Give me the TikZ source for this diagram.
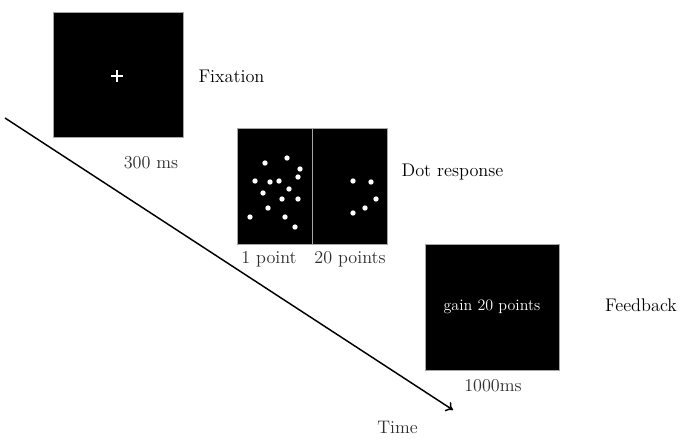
\documentclass[tikz,border=0pt]{standalone}
\usetikzlibrary{positioning,arrows.meta}
\tikzset{
  screen/.style={draw=gray!70,fill=black,thin,inner sep=0pt},
  lbl/.style={font=\fontsize{13.7}{16}\selectfont},
  sublbl/.style={font=\fontsize{13.6}{16}\selectfont,text=black!82},
  dot/.style={fill=white,draw=none}
}
\begin{document}
\begin{tikzpicture}[x=0.75pt,y=-0.75pt]
\useasboundingbox[fill=white] (0,0) rectangle (685,443);
% screens
\node[screen,minimum width=97.5pt,minimum height=93.75pt] (fix) at (118,74.5) {};
\node[screen,minimum width=56.25pt,minimum height=87pt] (dotL) at (274.5,186) {};
\node[screen,minimum width=56.25pt,minimum height=87pt] (dotR) at (349.5,186) {};
\draw[gray!70,thin] (dotL.north east) -- (dotL.south east); % divider
\node[screen,minimum width=100.5pt,minimum height=94.5pt,text=white,
      font=\fontsize{12}{14}\selectfont] (fb) at (492,307) {gain 20 points};
% fixation cross
\draw[white,line width=1.5pt] (111,76) -- (123,76);
\draw[white,line width=1.5pt] (117,70) -- (117,82);
% dots
\foreach \x/\y in {265/163,287/158,300/169,255/181,270/182,279/181,298/177,
  289/189,263/193,282/199,298/199,268/208,250/217,285/217,295/227}
  \fill[dot] (\x,\y) circle (2pt);
\foreach \x/\y in {353/181,371/182,376/199,365/208,353/213}
  \fill[dot] (\x,\y) circle (2pt);
% labels
\node[lbl] (fixlbl) at (231.5,76) {Fixation};
\node[lbl] (dotlbl) at (452.5,172) {Dot response};
\node[lbl] (fblbl) at (641,305) {Feedback};
\node[sublbl] (t1) at (151,163) {300 ms};
\node[sublbl] (pL) at (269,259) {1 point};
\node[sublbl] (pR) at (350,259) {20 points};
\node[sublbl] (t3) at (493,386) {1000ms};
\node[sublbl] (time) at (397.5,427) {Time};
% time axis
\coordinate (t0) at (5,118);
\coordinate (tend) at (453,410);
\draw[line width=1.1pt,-{To[length=5pt,width=8pt]}] (t0) -- (tend);
\end{tikzpicture}
\end{document}
